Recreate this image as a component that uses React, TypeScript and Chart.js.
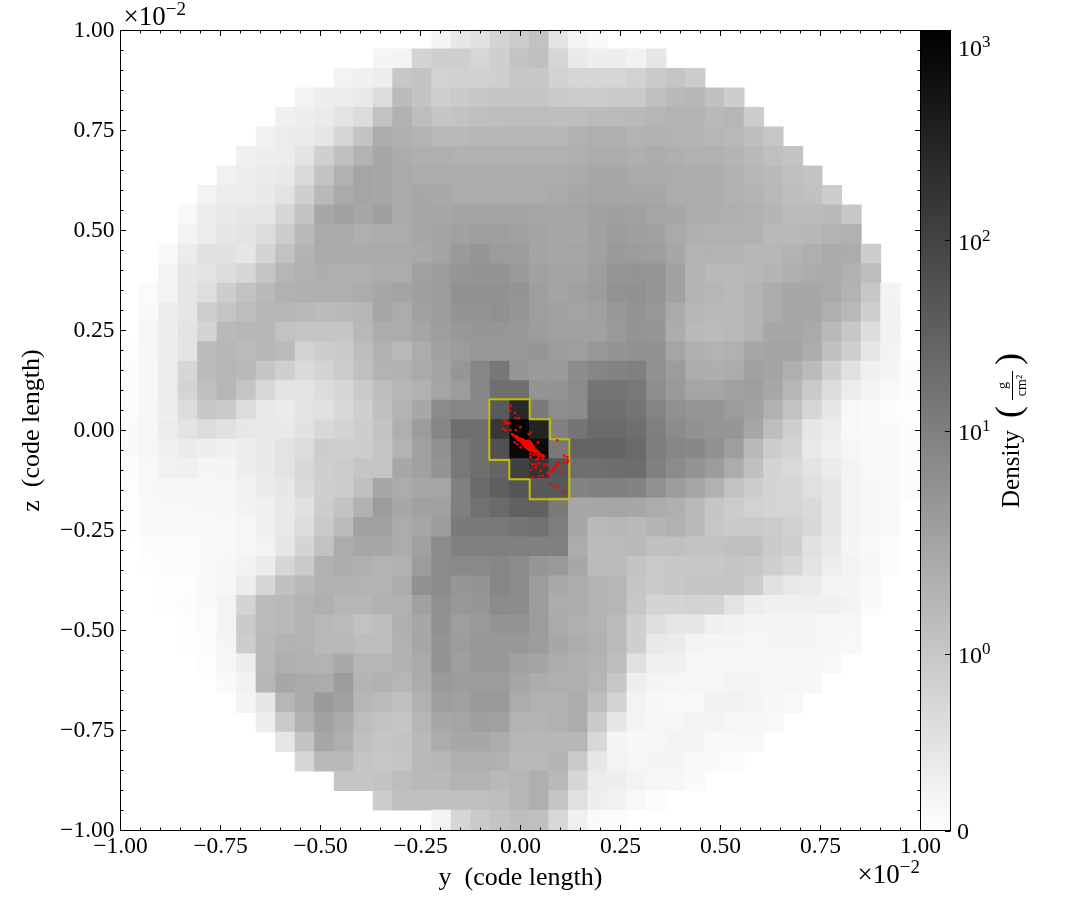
import React, { useEffect, useRef } from "react";
import { Chart, registerables } from "chart.js";

Chart.register(...registerables);

// First non-empty column of each row of the projection (rows run from top to bottom).
const rowFirstColumn = [16,13,11,9,8,7,6,5,4,3,3,2,2,1,1,1,0,0,0,0,0,0,0,0,0,0,1,1,2,2,3,3,4,5,6,7,8,9,11,13,16];

// Colour-bar shade of each cell (255 = lowest density, 0 = highest).
const shadeRows: number[][] = [
  [245,230,222,205,197,187,225,243,250],
  [245,243,205,200,200,207,200,188,185,207,232,238,238,242,228],
  [243,240,238,192,188,203,202,202,200,192,192,203,207,208,208,203,195,190,197],
  [243,238,236,232,215,180,188,200,195,192,190,190,190,195,197,197,195,195,185,178,175,185,198],
  [240,238,235,226,215,187,170,182,190,188,185,183,182,182,183,183,180,180,178,175,172,172,178,175,198],
  [241,236,235,228,207,188,165,168,172,177,178,175,176,176,176,176,170,168,168,172,170,172,173,175,177,183,192],
  [240,238,237,225,200,185,172,160,165,168,168,170,170,170,170,170,170,168,165,165,168,165,168,170,170,173,178,184,188],
  [241,238,235,232,212,188,170,158,160,163,165,165,165,167,167,167,167,167,163,160,160,163,163,165,167,167,170,175,178,185,188],
  [243,236,236,233,225,200,178,163,158,160,163,160,162,165,165,165,165,165,163,160,158,158,160,160,165,165,167,170,172,178,183,186,197],
  [248,236,232,230,228,207,188,160,155,160,153,163,160,160,157,157,157,157,158,158,158,155,153,155,158,160,165,167,168,170,174,180,180,178,192],
  [243,236,228,226,217,197,178,163,163,168,165,165,160,157,155,152,152,155,157,160,160,155,150,153,155,163,168,170,170,170,178,178,176,172,170],
  [249,236,222,223,228,205,187,172,163,163,163,163,163,162,157,148,145,150,150,157,160,158,155,148,150,152,160,172,172,173,176,176,172,168,163,165,198],
  [243,230,225,215,207,190,175,170,167,168,168,165,165,155,150,145,143,143,148,155,157,157,152,145,143,145,155,172,178,178,175,173,168,165,163,170,182],
  [251,243,228,218,198,187,178,170,168,168,168,165,160,157,153,150,140,140,140,143,152,157,155,150,142,140,145,155,172,175,178,172,165,160,160,163,172,192,243],
  [250,238,228,200,190,182,175,175,177,180,178,175,160,165,155,150,143,143,140,145,152,155,157,155,147,143,147,163,175,178,178,172,165,160,160,168,178,200,242],
  [247,238,225,205,178,176,176,187,190,190,190,177,165,165,158,152,147,145,145,147,150,155,155,155,148,143,145,165,178,180,178,172,160,160,163,178,193,217,242],
  [253,247,238,226,180,176,180,175,180,203,197,195,182,170,178,165,155,150,147,147,147,145,150,152,147,143,140,140,158,168,172,170,160,157,157,165,185,200,228,243],
  [252,246,236,207,180,175,178,190,200,213,205,197,185,172,170,163,157,145,130,117,145,148,148,137,130,128,125,140,150,165,167,165,155,157,168,180,200,222,240,245,252],
  [252,246,236,205,185,175,190,210,225,225,215,208,195,182,175,170,158,150,130,110,110,143,143,135,115,115,118,138,148,158,158,155,152,160,175,195,215,236,245,248,252],
  [251,247,238,215,192,195,215,232,235,225,222,210,200,185,172,160,135,130,130,90,40,120,138,135,110,110,115,129,140,145,145,150,155,170,187,208,230,248,250,252,253],
  [250,246,236,225,215,222,230,232,232,223,210,205,198,188,168,150,130,110,110,55,3,35,125,115,105,105,110,124,135,140,145,145,160,183,200,228,236,248,250,250,252],
  [250,246,240,235,238,240,238,232,225,215,198,200,198,190,172,155,140,118,110,80,8,10,118,100,100,100,105,122,130,132,140,152,178,197,205,233,240,246,248,250,252],
  [252,248,241,240,245,245,238,232,225,210,200,197,190,190,160,155,143,118,110,100,65,52,85,110,110,108,108,125,135,142,150,165,185,205,212,225,235,243,248,250,252],
  [253,248,246,246,247,246,242,235,230,213,200,198,185,160,165,160,158,125,105,95,85,88,87,128,125,125,128,140,150,158,170,187,198,205,207,220,230,243,247,249,251],
  [253,250,248,248,247,247,243,240,232,222,198,188,170,150,160,155,155,125,112,105,97,97,120,160,160,158,160,165,168,178,190,197,203,205,208,213,230,243,247,249],
  [253,250,249,249,249,248,246,240,233,215,195,180,155,155,165,160,150,120,118,118,115,112,122,160,178,175,178,174,170,178,192,195,195,197,202,210,230,243,247,249],
  [252,251,251,250,248,246,243,228,205,187,165,160,160,165,155,135,125,125,125,125,125,125,165,180,180,178,185,185,187,187,185,185,195,200,222,232,245,248,251],
  [253,252,251,250,247,243,235,208,195,170,165,168,172,170,150,135,133,133,130,135,145,148,160,180,180,188,194,192,192,192,190,192,200,208,225,238,243,247,252],
  [253,253,250,247,237,208,185,178,170,170,172,172,165,140,135,145,143,130,135,150,162,165,172,175,190,195,192,190,190,190,198,222,232,235,243,245,248],
  [253,252,250,243,205,180,178,172,168,175,175,170,170,155,140,147,145,135,137,150,165,165,172,175,192,205,205,203,205,225,237,240,240,240,240,243,250],
  [253,251,243,195,180,178,172,177,180,187,183,168,160,140,152,148,143,143,150,163,168,172,180,200,218,228,228,240,242,245,245,245,245,247,247],
  [253,252,245,198,178,172,172,178,178,182,182,170,160,143,150,147,147,147,150,160,165,170,180,200,232,235,243,245,245,246,245,245,245,247,248],
  [253,247,238,178,168,170,172,162,175,175,170,163,143,153,147,147,155,157,165,168,172,183,222,239,240,246,247,247,247,247,247,247,248],
  [250,242,175,160,163,165,150,173,170,175,165,148,150,150,150,160,165,168,168,175,192,238,245,246,246,246,243,245,246,246,247],
  [244,228,175,163,148,155,175,180,185,170,152,155,148,148,165,170,170,165,182,205,243,247,248,248,241,241,245,247,248],
  [238,195,170,155,163,182,187,190,175,160,158,153,155,172,173,170,165,195,230,244,247,246,244,243,246,247,248],
  [228,188,160,168,185,190,188,178,165,160,160,165,176,176,176,175,210,245,247,247,244,244,249,248,248],
  [208,178,178,190,192,190,178,175,168,168,170,178,178,174,195,228,243,246,245,245,248,250,251],
  [190,190,188,182,178,178,172,172,178,175,168,178,208,236,238,243,246,247,250],
  [197,185,185,185,185,185,183,175,168,190,220,238,242,248,252],
  [243,207,195,188,183,185,210,240,250,252],
];

// Yellow contour around the densest cells (units of 10^-2 code length).
const contourY = [-0.078, 0.023, 0.023, 0.074, 0.074, 0.122, 0.122, 0.023, 0.023, -0.028, -0.028, -0.078, -0.078];
const contourZ = [0.078, 0.078, 0.028, 0.028, -0.022, -0.022, -0.172, -0.172, -0.122, -0.122, -0.074, -0.074, 0.078];

// Red particles (units of 10^-5 code length).
const particleY = [-21,-18,-16,-14,-12,-10,-9,-8,-6,-5,-4,-2,-1,0,1,2,3,4,5,6,7,8,9,10,11,12,13,14,15,16,17,18,19,20,21,22,23,24,25,26,27,28,29,30,22,17,13,8,4,32,35,38,41,44,47,50,53,56,59,48,36,42,
  -25,-14,-26,-41,-33,-39,-37,-28,-12,-4,-43,-25,-37,-12,0,-14,-8,0,21,44,25,
  25,30,38,46,59,67,25,38,50,67,55,30,46,71,75,92,111,92,100,
  80,84,88,92,96,81,86,90,78,109,117,119,109,117,45,55,33,25,40,
  5,8,10,12,14,16,18,20,22,24,26,28,30,32,34,10,12,14,16,18,20,22,24,26,28,30,8,10,13,15,18,20,22,24,26,28,16,20,24,-12,-10,-8,-6,-4,-2,0,2];
const particleZ = [-9,-12,-13,-15,-16,-18,-17,-20,-19,-22,-21,-24,-23,-26,-24,-28,-26,-29,-27,-31,-29,-32,-30,-34,-31,-35,-32,-37,-33,-38,-35,-40,-34,-41,-36,-38,-43,-33,-39,-30,-44,-37,-46,-42,-28,-30,-37,-36,-33,-47,-50,-48,-52,-54,-57,-60,-63,-62,-65,-63,-55,-60,
  62,44,50,26,20,23,18,18,31,31,4,1,0,1,8,-30,-34,-42,-9,-30,-5,
  -67,-84,-84,-82,-85,-85,-99,-92,-101,-105,-113,-117,-115,-113,-134,-142,-152,-25,-105,
  -100,-96,-90,-85,-80,-98,-94,-88,-102,-63,-67,-75,-80,-80,-68,-70,-62,-58,-72,
  -22,-25,-26,-28,-28,-27,-28,-30,-33,-36,-37,-34,-36,-40,-43,-38,-40,-42,-44,-46,-47,-48,-50,-48,-50,-52,-30,-31,-34,-36,-37,-36,-35,-42,-42,-42,-32,-26,-28,-14,-14,-16,-24,-25,-20,-22,-22];

const axisTicks = [-1, -0.75, -0.5, -0.25, 0, 0.25, 0.5, 0.75, 1];
const minorAxisTicks = [-0.95,-0.9,-0.85,-0.8,-0.7,-0.65,-0.6,-0.55,-0.45,-0.4,-0.35,-0.3,-0.2,-0.15,-0.1,-0.05,0.05,0.1,0.15,0.2,0.3,0.35,0.4,0.45,0.55,0.6,0.65,0.7,0.8,0.85,0.9,0.95];

// Colour bar: fraction of its height for each labelled density.
const colorbarPositions = [0, 0.221, 0.4994, 0.7375, 0.98];
const colorbarBases = ["0", "10", "10", "10", "10"];
const colorbarExponents = ["", "0", "1", "2", "3"];

const FONT = '"Liberation Serif", serif';
const TICK_SIZE = 23.5;

const cellSize = 0.0488;
const cellOffsetX = -0.0022;
const cellOffsetZ = 0.0025;

// The mid greys were read a little dark from the crops.
const calibrate = (s: number) => {
  const low = Math.min(1, Math.max(0, (s - 100) / 60));
  const high = Math.min(1, Math.max(0, (235 - s) / 30));
  return Math.round(s + 7 * low * high);
};

const cells: { x: number; y: number }[] = [];
const cellColors: string[] = [];
shadeRows.forEach((row, r) => {
  row.forEach((shade, i) => {
    const col = rowFirstColumn[r] + i;
    const g = calibrate(shade);
    cells.push({ x: (col - 20) * cellSize + cellOffsetX, y: (20 - r) * cellSize + cellOffsetZ });
    cellColors.push(`rgb(${g},${g},${g})`);
  });
});

const fmt = (v: number) => {
  const s = Math.abs(v).toFixed(2);
  return v < -1e-9 ? `\u2212${s}` : s;
};

function powerLabel(ctx: CanvasRenderingContext2D, rightX: number, y: number) {
  ctx.save();
  ctx.fillStyle = "#000";
  ctx.textBaseline = "alphabetic";
  ctx.textAlign = "left";
  ctx.font = `27px ${FONT}`;
  const base = "×10";
  const w1 = ctx.measureText(base).width;
  ctx.font = `19px ${FONT}`;
  const sup = "\u22122";
  const w2 = ctx.measureText(sup).width;
  ctx.fillText(sup, rightX - w2, y - 10);
  ctx.font = `27px ${FONT}`;
  ctx.fillText(base, rightX - w2 - w1, y);
  ctx.restore();
}

const framePlugin = {
  id: "frame",
  afterDraw(chart: any) {
    const { ctx, chartArea: a, scales } = chart;
    const { x, y } = scales;
    ctx.save();
    ctx.strokeStyle = "#000";
    ctx.lineWidth = 1;
    const tick = (px0: number, py0: number, px1: number, py1: number) => {
      ctx.beginPath();
      ctx.moveTo(px0, py0);
      ctx.lineTo(px1, py1);
      ctx.stroke();
    };
    const drawSet = (vals: number[], len: number) => {
      vals.forEach((v) => {
        const px = x.getPixelForValue(v);
        const py = y.getPixelForValue(v);
        tick(px, a.bottom, px, a.bottom - len);
        tick(px, a.top, px, a.top + len);
        tick(a.left, py, a.left + len, py);
        tick(a.right, py, a.right - len, py);
      });
    };
    drawSet(axisTicks, 5.5);
    drawSet(minorAxisTicks, 3);
    ctx.strokeRect(a.left, a.top, a.right - a.left, a.bottom - a.top);
    ctx.restore();
    powerLabel(ctx, 186, 25);
    powerLabel(ctx, 920, 883);
  },
};

const colorbarPlugin = {
  id: "colorbarFrame",
  afterDraw(chart: any) {
    const { ctx, chartArea: a, scales } = chart;
    ctx.save();
    ctx.strokeStyle = "#000";
    ctx.fillStyle = "#000";
    ctx.lineWidth = 1;
    colorbarPositions.forEach((p, i) => {
      const raw = scales.y.getPixelForValue(p);
      const py = Math.round(raw) + 0.5;
      ctx.beginPath();
      ctx.moveTo(a.right, py);
      ctx.lineTo(a.right - 5.5, py);
      ctx.stroke();
      ctx.textAlign = "left";
      ctx.textBaseline = "alphabetic";
      ctx.font = `24px ${FONT}`;
      const base = colorbarBases[i];
      const left = i === 0 ? 957 : 958;
      ctx.fillText(base, left, raw + (i === 0 ? 8 : 9.5));
      const w = ctx.measureText(base).width;
      if (colorbarExponents[i]) {
        ctx.font = `17px ${FONT}`;
        ctx.fillText(colorbarExponents[i], left + w, raw + 0.5);
      }
    });
    ctx.strokeRect(a.left, a.top, a.right - a.left, a.bottom - a.top);

    // Colour-bar title, written bottom to top.
    ctx.translate(1012, 0);
    ctx.rotate(-Math.PI / 2);
    ctx.textBaseline = "middle";
    ctx.textAlign = "left";
    ctx.font = `25px ${FONT}`;
    ctx.fillText("Density", -508, 0);
    ctx.font = `36px ${FONT}`;
    ctx.textAlign = "center";
    ctx.fillText("(", -412, -1);
    ctx.fillText(")", -359, -1);
    ctx.font = `14px ${FONT}`;
    ctx.fillText("g", -385.5, -9);
    ctx.fillText("cm²", -385.5, 10);
    ctx.lineWidth = 1;
    ctx.beginPath();
    ctx.moveTo(-400, 0.5);
    ctx.lineTo(-371, 0.5);
    ctx.stroke();
    ctx.restore();
  },
};

export default function App() {
  const mainRef = useRef<HTMLCanvasElement>(null);
  const barRef = useRef<HTMLCanvasElement>(null);

  useEffect(() => {
    const tickFont = { family: FONT, size: TICK_SIZE };
    const axisCommon = {
      type: "linear" as const,
      min: -1,
      max: 1,
      grid: { display: false, drawTicks: false },
      border: { display: false },
    };
    const setTicks = (scale: any) => {
      scale.ticks = axisTicks.map((value) => ({ value }));
    };

    const main = new Chart(mainRef.current!, {
      type: "scatter",
      data: {
        datasets: [
          {
            label: "Particles",
            data: particleY.map((v, i) => ({ x: v / 1000, y: particleZ[i] / 1000 })),
            pointStyle: "rect",
            pointRadius: 1.7,
            pointBackgroundColor: "#ff0000",
            pointBorderWidth: 0,
            order: 0,
          },
          {
            label: "Contour",
            data: contourY.map((v, i) => ({ x: v, y: contourZ[i] })),
            showLine: true,
            borderColor: "rgb(190,190,0)",
            borderWidth: 2,
            borderJoinStyle: "round",
            pointRadius: 0,
            order: 1,
          },
          {
            label: "Density",
            data: cells,
            pointStyle: "rect",
            pointRadius: 14.4,
            pointHoverRadius: 14.4,
            pointBackgroundColor: cellColors,
            pointBorderWidth: 0,
            clip: 0,
            order: 2,
          },
        ],
      } as any,
      options: {
        responsive: false,
        animation: false,
        devicePixelRatio: 1,
        events: [],
        layout: { padding: { top: 30.5, right: 163.5, bottom: 0, left: 0 } },
        plugins: { legend: { display: false }, tooltip: { enabled: false } },
        scales: {
          x: {
            ...axisCommon,
            afterFit: (s: any) => { s.height = 89.5; },
            afterBuildTicks: setTicks,
            ticks: { font: tickFont, color: "#000", padding: 2, maxRotation: 0, autoSkip: false, callback: (v: any) => fmt(Number(v)) },
            title: { display: true, text: "y  (code length)", color: "#000", font: { family: FONT, size: 26 }, padding: { top: 0, bottom: 26 } },
          },
          y: {
            ...axisCommon,
            afterFit: (s: any) => { s.width = 120.5; },
            afterBuildTicks: setTicks,
            ticks: { font: tickFont, color: "#000", padding: 6, autoSkip: false, callback: (v: any) => fmt(Number(v)) },
            title: { display: true, text: "z  (code length)", color: "#000", font: { family: FONT, size: 26 }, padding: { top: 17, bottom: 0 } },
          },
        },
      } as any,
      plugins: [framePlugin],
    });

    const bar = new Chart(barRef.current!, {
      type: "bar",
      data: {
        labels: ["Density"],
        datasets: [
          {
            data: [[0, 1]],
            barPercentage: 1,
            categoryPercentage: 1,
            borderWidth: 0,
            backgroundColor: (c: any) => {
              const a = c.chart.chartArea;
              if (!a) return "#808080";
              const g = c.chart.ctx.createLinearGradient(0, a.bottom, 0, a.top);
              g.addColorStop(0, "#ffffff");
              g.addColorStop(1, "#000000");
              return g;
            },
          },
        ],
      } as any,
      options: {
        responsive: false,
        animation: false,
        devicePixelRatio: 1,
        events: [],
        layout: { padding: { top: 30.5, right: 0, bottom: 89.5, left: 920.5 } },
        plugins: { legend: { display: false }, tooltip: { enabled: false } },
        scales: {
          x: { display: false },
          y: {
            type: "linear",
            position: "right",
            min: 0,
            max: 1,
            afterFit: (s: any) => { s.width = 133.5; },
            afterBuildTicks: (s: any) => { s.ticks = colorbarPositions.map((value) => ({ value })); },
            grid: { display: false, drawTicks: false },
            border: { display: false },
            ticks: { display: false },
          },
        },
      } as any,
      plugins: [colorbarPlugin],
    });

    return () => {
      main.destroy();
      bar.destroy();
    };
  }, []);

  const style: React.CSSProperties = { position: "fixed", left: 0, top: 0, width: 1084, height: 920 };
  return (
    <div style={{ position: "fixed", left: 0, top: 0, width: 1084, height: 920, background: "#fff" }}>
      <canvas ref={mainRef} width={1084} height={920} style={style} />
      <canvas ref={barRef} width={1084} height={920} style={style} />
    </div>
  );
}
